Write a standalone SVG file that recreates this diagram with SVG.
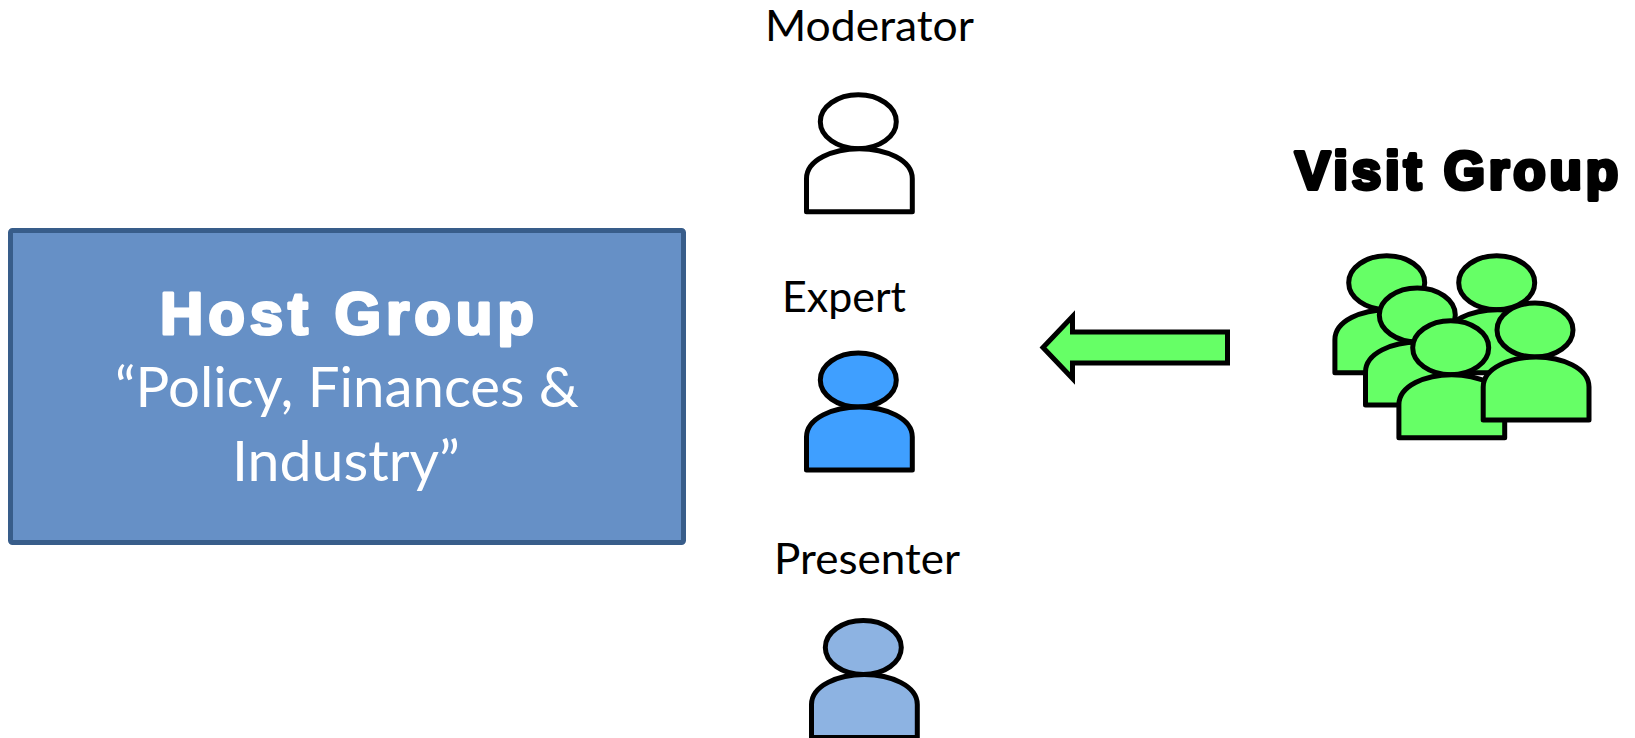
<svg xmlns="http://www.w3.org/2000/svg" width="1635" height="738" viewBox="0 0 1635 738">
<style>
.lbl{font-family:"Lato","Carlito","Liberation Sans",sans-serif;font-size:43px;fill:#000}
.sub{font-family:"Lato","Carlito","Liberation Sans",sans-serif;font-size:57px;fill:#fff}
.hvy{font-family:"Liberation Sans",Arial,sans-serif;font-weight:700;stroke-linejoin:round}
.p ellipse,.p path{stroke:#000;stroke-width:5;stroke-linejoin:round}
.green{fill:#66ff66}
</style>
<defs>
<g id="person" class="p">
<ellipse cx="0" cy="0" rx="38" ry="27"/>
<path d="M-51.8,90 V57 C-51.8,38 -25,27 1,27 C27,27 54,38 54,57 V90 Z"/>
</g>
</defs>
<rect width="1635" height="738" fill="#fff"/>
<g id="host-group">
<rect x="10.5" y="230.5" width="673" height="312" rx="2" fill="#6690c6" stroke="#385d8a" stroke-width="5"/>
<text class="hvy" x="160" y="334" font-size="60" fill="#fff" stroke="#fff" stroke-width="3" textLength="374">Host Group</text>
<text class="sub" x="115" y="407" textLength="464" lengthAdjust="spacingAndGlyphs">“Policy, Finances &amp;</text>
<text class="sub" x="232" y="481" textLength="228" lengthAdjust="spacingAndGlyphs">Industry”</text>
</g>
<g id="moderator">
<text class="lbl" x="765" y="41" textLength="209" lengthAdjust="spacingAndGlyphs">Moderator</text>
<use href="#person" x="858.3" y="121.7" fill="#fff"/>
</g>
<g id="expert">
<text class="lbl" x="782" y="312" textLength="124" lengthAdjust="spacingAndGlyphs">Expert</text>
<use href="#person" x="858.3" y="380" fill="#3f9fff"/>
</g>
<g id="presenter">
<text class="lbl" x="774" y="574" textLength="186" lengthAdjust="spacingAndGlyphs">Presenter</text>
<use href="#person" x="863.3" y="647.5" fill="#8db3e2"/>
</g>
<g id="connectors">
<path d="M1227.5,332 H1072.5 V316.5 L1043,347.5 L1072.5,378.5 V363 H1227.5 Z" class="green" stroke="#000" stroke-width="5"/>
</g>
<g id="visit-group">
<text class="hvy" x="1295" y="189" font-size="53" fill="#000" stroke="#000" stroke-width="4" textLength="323">Visit Group</text>
<use href="#person" x="1386.7" y="282.7" class="green"/>
<use href="#person" x="1496.7" y="282.7" class="green"/>
<use href="#person" x="1417.3" y="315" class="green"/>
<use href="#person" x="1450.7" y="347.7" class="green"/>
<use href="#person" x="1535" y="330" class="green"/>
</g>
</svg>
